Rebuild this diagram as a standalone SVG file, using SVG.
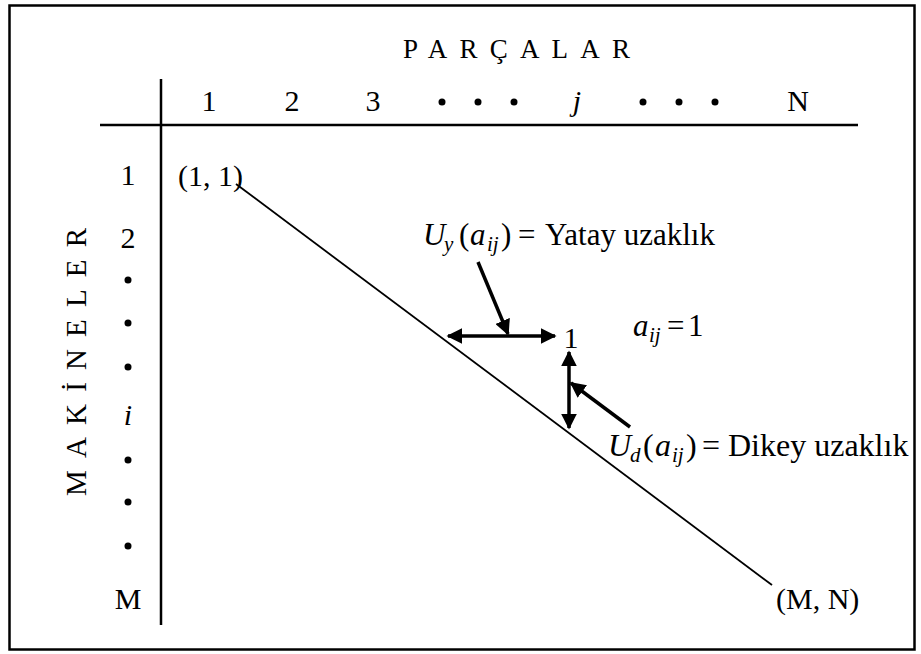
<svg xmlns="http://www.w3.org/2000/svg" width="921" height="654" viewBox="0 0 921 654">
<style>
.h{font-size:30px}
.l{font-size:31px}
.s{font-size:21px;font-style:italic}
.it{font-style:italic}
.ax{stroke:#000;stroke-width:2.5;fill:none}
.ar{stroke:#000;stroke-width:3.5;fill:none}
</style>
<defs>
<marker id="ah" viewBox="0 0 10 10" refX="9" refY="5" markerWidth="4.5" markerHeight="4.5" orient="auto-start-reverse" markerUnits="strokeWidth">
<path d="M0,0 L10,5 L0,10 Z" fill="#000"/>
</marker>
</defs>
<rect x="9.5" y="5.5" width="905" height="644" fill="#fff" stroke="#000" stroke-width="2.5"/>
<g font-family="'Liberation Serif', 'Times New Roman', serif" fill="#000">
<g id="axes">
<line class="ax" x1="100" y1="125" x2="858" y2="125"/>
<line class="ax" x1="161" y1="79" x2="161" y2="625"/>
</g>
<g id="title-parcalar"><text x="403" y="58" font-size="27" textLength="227" lengthAdjust="spacing">PARÇALAR</text></g>
<g id="title-makineler"><text font-size="29" transform="translate(86,362) rotate(-90)" text-anchor="middle" textLength="268" lengthAdjust="spacing">MAKİNELER</text></g>
<g id="col-headers" class="h">
<text x="209" y="111" text-anchor="middle">1</text>
<text x="292" y="111" text-anchor="middle">2</text>
<text x="373" y="111" text-anchor="middle">3</text>
<circle cx="442" cy="102" r="3.5"/><circle cx="478" cy="102" r="3.5"/><circle cx="514" cy="102" r="3.5"/>
<text x="577" y="111" text-anchor="middle" class="it">j</text>
<circle cx="643" cy="102" r="3.5"/><circle cx="679" cy="102" r="3.5"/><circle cx="715" cy="102" r="3.5"/>
<text x="798" y="111" text-anchor="middle">N</text>
</g>
<g id="row-headers" class="h">
<text x="128" y="185" text-anchor="middle">1</text>
<text x="128" y="248" text-anchor="middle">2</text>
<circle cx="128" cy="280" r="3.5"/><circle cx="128" cy="323" r="3.5"/><circle cx="128" cy="367" r="3.5"/>
<text x="128" y="425" text-anchor="middle" class="it">i</text>
<circle cx="128" cy="460" r="3.5"/><circle cx="128" cy="502" r="3.5"/><circle cx="128" cy="546" r="3.5"/>
<text x="128" y="609" text-anchor="middle">M</text>
</g>
<g id="corner-11"><text class="h" x="178" y="186">(1, 1)</text></g>
<g id="corner-MN"><text class="h" x="776" y="609">(M, N)</text></g>
<g id="cell-1"><text class="h" x="571" y="348" text-anchor="middle">1</text></g>
<g id="label-aij"><text class="l" y="336"><tspan class="it" x="633">a</tspan><tspan class="s" x="649" dy="6">ij</tspan><tspan x="667" dy="-6">=</tspan><tspan x="688">1</tspan></text></g>
<g id="label-uy"><text class="l" y="245"><tspan class="it" x="423">U</tspan><tspan class="s" x="444" dy="6">y</tspan><tspan x="459" dy="-6">(</tspan><tspan class="it" x="470">a</tspan><tspan class="s" x="487" dy="6">ij</tspan><tspan x="501" dy="-6">)</tspan><tspan x="518">=</tspan><tspan x="545">Yatay uzaklık</tspan></text></g>
<g id="label-ud"><text style="font-size:32px" y="456"><tspan class="it" x="608">U</tspan><tspan class="s" x="630" dy="6">d</tspan><tspan x="643" dy="-6">(</tspan><tspan class="it" x="655">a</tspan><tspan class="s" x="672" dy="6">ij</tspan><tspan x="686" dy="-6">)</tspan><tspan x="702">=</tspan><tspan x="728">Dikey uzaklık</tspan></text></g>
</g>
<g id="connectors">
<line x1="236" y1="184" x2="772" y2="585" stroke="#000" stroke-width="1.8"/>
<line class="ar" x1="448" y1="336" x2="555" y2="336" marker-start="url(#ah)" marker-end="url(#ah)"/>
<line class="ar" x1="478" y1="262" x2="508" y2="334" marker-end="url(#ah)"/>
<line class="ar" x1="569" y1="352" x2="569" y2="428" marker-start="url(#ah)" marker-end="url(#ah)"/>
<line class="ar" x1="630" y1="427" x2="571" y2="383" marker-end="url(#ah)"/>
</g>
</svg>
